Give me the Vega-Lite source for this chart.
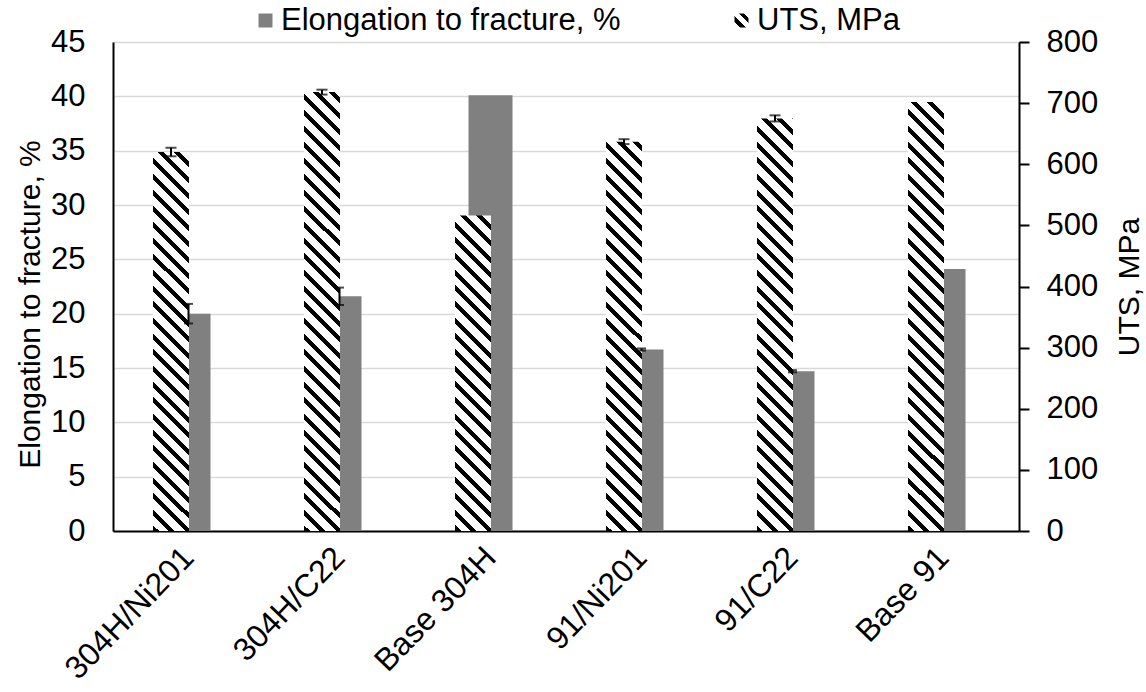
{
"$schema":"https://vega.github.io/schema/vega-lite/v6.json",
"width":906,"height":489,
"autosize":{"type":"none"},
"padding":{"left":113,"top":42,"right":127,"bottom":161},
"background":"white",
"config":{"font":"Liberation Sans","view":{"stroke":null},
"axis":{"labelFont":"Liberation Sans","titleFont":"Liberation Sans","labelFontSize":31,"titleFontSize":30,"titleFontWeight":"normal","labelColor":"#000","titleColor":"#000","domainColor":"#000","domainWidth":2,"labelFlush":false,"labelOverlap":false}},
"data":{"values":[
{"sample":"304H/Ni201","uts":620,"uts_lo":613,"uts_hi":627,"el":20.0,"el_lo":19.1,"el_hi":20.9},
{"sample":"304H/C22","uts":718,"uts_lo":714,"uts_hi":722,"el":21.6,"el_lo":20.8,"el_hi":22.4},
{"sample":"Base 304H","uts":516,"uts_lo":null,"uts_hi":null,"el":40.1,"el_lo":null,"el_hi":null},
{"sample":"91/Ni201","uts":637,"uts_lo":633,"uts_hi":641,"el":16.7,"el_lo":16.6,"el_hi":16.8},
{"sample":"91/C22","uts":675,"uts_lo":670,"uts_hi":680,"el":14.7,"el_lo":14.6,"el_hi":14.8},
{"sample":"Base 91","uts":702,"uts_lo":null,"uts_hi":null,"el":24.1,"el_lo":null,"el_hi":null}
]},
"encoding":{"x":{"field":"sample","type":"nominal","scale":{"domain":["304H/Ni201","304H/C22","Base 304H","91/Ni201","91/C22","Base 91"],"paddingInner":0,"paddingOuter":0},"axis":{"title":null,"labelAngle":-46,"labelBaseline":"middle","labelFontSize":32,"ticks":false,"labelPadding":21,"grid":false}}},
"layer":[
{"layer":[
{"mark":{"type":"bar","size":44,"color":"#808080"},
"encoding":{"y":{"field":"el","type":"quantitative","scale":{"domain":[0,45],"nice":false},"axis":{"orient":"left","values":[0,5,10,15,20,25,30,35,40,45],"title":"Elongation to fracture, %","titleY":262,"grid":true,"gridColor":"#d9d9d9","gridWidth":1.5,"ticks":false,"labelPadding":28,"titlePadding":5}},
"opacity":{"datum":"Elongation to fracture, %","type":"ordinal","scale":{"domain":["Elongation to fracture, %"],"range":[1]},
"legend":{"orient":"none","legendX":137,"legendY":-37,"title":null,"labelFont":"Liberation Sans","labelFontSize":31,"labelColor":"#000","labelLimit":800,"symbolType":"square","symbolSize":196,"labelOffset":0,"padding":0}}}}
]},
{"layer":[
{"transform":[{"filter":"datum.sample === '304H/Ni201'"}],"mark":{"type":"bar","size":36,"xOffset":-17.5,"fill":{"gradient":"linear","x1":0,"y1":1,"x2":0.11922,"y2":-0.25517,"stops":[{"offset":0,"color":"#000"},{"offset":0.0125,"color":"#000"},{"offset":0.0125,"color":"#fff"},{"offset":0.0333,"color":"#fff"},{"offset":0.0333,"color":"#000"},{"offset":0.0458,"color":"#000"},{"offset":0.0458,"color":"#fff"},{"offset":0.0667,"color":"#fff"},{"offset":0.0667,"color":"#000"},{"offset":0.0792,"color":"#000"},{"offset":0.0792,"color":"#fff"},{"offset":0.1,"color":"#fff"},{"offset":0.1,"color":"#000"},{"offset":0.1125,"color":"#000"},{"offset":0.1125,"color":"#fff"},{"offset":0.1333,"color":"#fff"},{"offset":0.1333,"color":"#000"},{"offset":0.1458,"color":"#000"},{"offset":0.1458,"color":"#fff"},{"offset":0.1667,"color":"#fff"},{"offset":0.1667,"color":"#000"},{"offset":0.1792,"color":"#000"},{"offset":0.1792,"color":"#fff"},{"offset":0.2,"color":"#fff"},{"offset":0.2,"color":"#000"},{"offset":0.2125,"color":"#000"},{"offset":0.2125,"color":"#fff"},{"offset":0.2333,"color":"#fff"},{"offset":0.2333,"color":"#000"},{"offset":0.2458,"color":"#000"},{"offset":0.2458,"color":"#fff"},{"offset":0.2667,"color":"#fff"},{"offset":0.2667,"color":"#000"},{"offset":0.2792,"color":"#000"},{"offset":0.2792,"color":"#fff"},{"offset":0.3,"color":"#fff"},{"offset":0.3,"color":"#000"},{"offset":0.3125,"color":"#000"},{"offset":0.3125,"color":"#fff"},{"offset":0.3333,"color":"#fff"},{"offset":0.3333,"color":"#000"},{"offset":0.3458,"color":"#000"},{"offset":0.3458,"color":"#fff"},{"offset":0.3667,"color":"#fff"},{"offset":0.3667,"color":"#000"},{"offset":0.3792,"color":"#000"},{"offset":0.3792,"color":"#fff"},{"offset":0.4,"color":"#fff"},{"offset":0.4,"color":"#000"},{"offset":0.4125,"color":"#000"},{"offset":0.4125,"color":"#fff"},{"offset":0.4333,"color":"#fff"},{"offset":0.4333,"color":"#000"},{"offset":0.4458,"color":"#000"},{"offset":0.4458,"color":"#fff"},{"offset":0.4667,"color":"#fff"},{"offset":0.4667,"color":"#000"},{"offset":0.4792,"color":"#000"},{"offset":0.4792,"color":"#fff"},{"offset":0.5,"color":"#fff"},{"offset":0.5,"color":"#000"},{"offset":0.5125,"color":"#000"},{"offset":0.5125,"color":"#fff"},{"offset":0.5333,"color":"#fff"},{"offset":0.5333,"color":"#000"},{"offset":0.5458,"color":"#000"},{"offset":0.5458,"color":"#fff"},{"offset":0.5667,"color":"#fff"},{"offset":0.5667,"color":"#000"},{"offset":0.5792,"color":"#000"},{"offset":0.5792,"color":"#fff"},{"offset":0.6,"color":"#fff"},{"offset":0.6,"color":"#000"},{"offset":0.6125,"color":"#000"},{"offset":0.6125,"color":"#fff"},{"offset":0.6333,"color":"#fff"},{"offset":0.6333,"color":"#000"},{"offset":0.6458,"color":"#000"},{"offset":0.6458,"color":"#fff"},{"offset":0.6667,"color":"#fff"},{"offset":0.6667,"color":"#000"},{"offset":0.6792,"color":"#000"},{"offset":0.6792,"color":"#fff"},{"offset":0.7,"color":"#fff"},{"offset":0.7,"color":"#000"},{"offset":0.7125,"color":"#000"},{"offset":0.7125,"color":"#fff"},{"offset":0.7333,"color":"#fff"},{"offset":0.7333,"color":"#000"},{"offset":0.7458,"color":"#000"},{"offset":0.7458,"color":"#fff"},{"offset":0.7667,"color":"#fff"},{"offset":0.7667,"color":"#000"},{"offset":0.7792,"color":"#000"},{"offset":0.7792,"color":"#fff"},{"offset":0.8,"color":"#fff"},{"offset":0.8,"color":"#000"},{"offset":0.8125,"color":"#000"},{"offset":0.8125,"color":"#fff"},{"offset":0.8333,"color":"#fff"},{"offset":0.8333,"color":"#000"},{"offset":0.8458,"color":"#000"},{"offset":0.8458,"color":"#fff"},{"offset":0.8667,"color":"#fff"},{"offset":0.8667,"color":"#000"},{"offset":0.8792,"color":"#000"},{"offset":0.8792,"color":"#fff"},{"offset":0.9,"color":"#fff"},{"offset":0.9,"color":"#000"},{"offset":0.9125,"color":"#000"},{"offset":0.9125,"color":"#fff"},{"offset":0.9333,"color":"#fff"},{"offset":0.9333,"color":"#000"},{"offset":0.9458,"color":"#000"},{"offset":0.9458,"color":"#fff"},{"offset":0.9667,"color":"#fff"},{"offset":0.9667,"color":"#000"},{"offset":0.9792,"color":"#000"},{"offset":0.9792,"color":"#fff"},{"offset":1,"color":"#fff"}]}},
"encoding":{"y":{"field":"uts","type":"quantitative","scale":{"domain":[0,800],"nice":false},"axis":{"orient":"right","values":[0,100,200,300,400,500,600,700,800],"title":"UTS, MPa","titleAngle":270,"titleBaseline":"top","titlePadding":17,"grid":false,"ticks":true,"tickSize":10,"tickWidth":2,"tickColor":"#000","labelPadding":17}}}},
{"transform":[{"filter":"datum.sample === '304H/C22'"}],"mark":{"type":"bar","size":36,"xOffset":-17.5,"fill":{"gradient":"linear","x1":0,"y1":1,"x2":0.0891,"y2":-0.08633,"stops":[{"offset":0,"color":"#000"},{"offset":0.0125,"color":"#000"},{"offset":0.0125,"color":"#fff"},{"offset":0.0333,"color":"#fff"},{"offset":0.0333,"color":"#000"},{"offset":0.0458,"color":"#000"},{"offset":0.0458,"color":"#fff"},{"offset":0.0667,"color":"#fff"},{"offset":0.0667,"color":"#000"},{"offset":0.0792,"color":"#000"},{"offset":0.0792,"color":"#fff"},{"offset":0.1,"color":"#fff"},{"offset":0.1,"color":"#000"},{"offset":0.1125,"color":"#000"},{"offset":0.1125,"color":"#fff"},{"offset":0.1333,"color":"#fff"},{"offset":0.1333,"color":"#000"},{"offset":0.1458,"color":"#000"},{"offset":0.1458,"color":"#fff"},{"offset":0.1667,"color":"#fff"},{"offset":0.1667,"color":"#000"},{"offset":0.1792,"color":"#000"},{"offset":0.1792,"color":"#fff"},{"offset":0.2,"color":"#fff"},{"offset":0.2,"color":"#000"},{"offset":0.2125,"color":"#000"},{"offset":0.2125,"color":"#fff"},{"offset":0.2333,"color":"#fff"},{"offset":0.2333,"color":"#000"},{"offset":0.2458,"color":"#000"},{"offset":0.2458,"color":"#fff"},{"offset":0.2667,"color":"#fff"},{"offset":0.2667,"color":"#000"},{"offset":0.2792,"color":"#000"},{"offset":0.2792,"color":"#fff"},{"offset":0.3,"color":"#fff"},{"offset":0.3,"color":"#000"},{"offset":0.3125,"color":"#000"},{"offset":0.3125,"color":"#fff"},{"offset":0.3333,"color":"#fff"},{"offset":0.3333,"color":"#000"},{"offset":0.3458,"color":"#000"},{"offset":0.3458,"color":"#fff"},{"offset":0.3667,"color":"#fff"},{"offset":0.3667,"color":"#000"},{"offset":0.3792,"color":"#000"},{"offset":0.3792,"color":"#fff"},{"offset":0.4,"color":"#fff"},{"offset":0.4,"color":"#000"},{"offset":0.4125,"color":"#000"},{"offset":0.4125,"color":"#fff"},{"offset":0.4333,"color":"#fff"},{"offset":0.4333,"color":"#000"},{"offset":0.4458,"color":"#000"},{"offset":0.4458,"color":"#fff"},{"offset":0.4667,"color":"#fff"},{"offset":0.4667,"color":"#000"},{"offset":0.4792,"color":"#000"},{"offset":0.4792,"color":"#fff"},{"offset":0.5,"color":"#fff"},{"offset":0.5,"color":"#000"},{"offset":0.5125,"color":"#000"},{"offset":0.5125,"color":"#fff"},{"offset":0.5333,"color":"#fff"},{"offset":0.5333,"color":"#000"},{"offset":0.5458,"color":"#000"},{"offset":0.5458,"color":"#fff"},{"offset":0.5667,"color":"#fff"},{"offset":0.5667,"color":"#000"},{"offset":0.5792,"color":"#000"},{"offset":0.5792,"color":"#fff"},{"offset":0.6,"color":"#fff"},{"offset":0.6,"color":"#000"},{"offset":0.6125,"color":"#000"},{"offset":0.6125,"color":"#fff"},{"offset":0.6333,"color":"#fff"},{"offset":0.6333,"color":"#000"},{"offset":0.6458,"color":"#000"},{"offset":0.6458,"color":"#fff"},{"offset":0.6667,"color":"#fff"},{"offset":0.6667,"color":"#000"},{"offset":0.6792,"color":"#000"},{"offset":0.6792,"color":"#fff"},{"offset":0.7,"color":"#fff"},{"offset":0.7,"color":"#000"},{"offset":0.7125,"color":"#000"},{"offset":0.7125,"color":"#fff"},{"offset":0.7333,"color":"#fff"},{"offset":0.7333,"color":"#000"},{"offset":0.7458,"color":"#000"},{"offset":0.7458,"color":"#fff"},{"offset":0.7667,"color":"#fff"},{"offset":0.7667,"color":"#000"},{"offset":0.7792,"color":"#000"},{"offset":0.7792,"color":"#fff"},{"offset":0.8,"color":"#fff"},{"offset":0.8,"color":"#000"},{"offset":0.8125,"color":"#000"},{"offset":0.8125,"color":"#fff"},{"offset":0.8333,"color":"#fff"},{"offset":0.8333,"color":"#000"},{"offset":0.8458,"color":"#000"},{"offset":0.8458,"color":"#fff"},{"offset":0.8667,"color":"#fff"},{"offset":0.8667,"color":"#000"},{"offset":0.8792,"color":"#000"},{"offset":0.8792,"color":"#fff"},{"offset":0.9,"color":"#fff"},{"offset":0.9,"color":"#000"},{"offset":0.9125,"color":"#000"},{"offset":0.9125,"color":"#fff"},{"offset":0.9333,"color":"#fff"},{"offset":0.9333,"color":"#000"},{"offset":0.9458,"color":"#000"},{"offset":0.9458,"color":"#fff"},{"offset":0.9667,"color":"#fff"},{"offset":0.9667,"color":"#000"},{"offset":0.9792,"color":"#000"},{"offset":0.9792,"color":"#fff"},{"offset":1,"color":"#fff"}]}},
"encoding":{"y":{"field":"uts","type":"quantitative"}}},
{"transform":[{"filter":"datum.sample === 'Base 304H'"}],"mark":{"type":"bar","size":36,"xOffset":-17.5,"fill":{"gradient":"linear","x1":0,"y1":1,"x2":0.17147,"y2":-0.5023,"stops":[{"offset":0,"color":"#000"},{"offset":0.0125,"color":"#000"},{"offset":0.0125,"color":"#fff"},{"offset":0.0333,"color":"#fff"},{"offset":0.0333,"color":"#000"},{"offset":0.0458,"color":"#000"},{"offset":0.0458,"color":"#fff"},{"offset":0.0667,"color":"#fff"},{"offset":0.0667,"color":"#000"},{"offset":0.0792,"color":"#000"},{"offset":0.0792,"color":"#fff"},{"offset":0.1,"color":"#fff"},{"offset":0.1,"color":"#000"},{"offset":0.1125,"color":"#000"},{"offset":0.1125,"color":"#fff"},{"offset":0.1333,"color":"#fff"},{"offset":0.1333,"color":"#000"},{"offset":0.1458,"color":"#000"},{"offset":0.1458,"color":"#fff"},{"offset":0.1667,"color":"#fff"},{"offset":0.1667,"color":"#000"},{"offset":0.1792,"color":"#000"},{"offset":0.1792,"color":"#fff"},{"offset":0.2,"color":"#fff"},{"offset":0.2,"color":"#000"},{"offset":0.2125,"color":"#000"},{"offset":0.2125,"color":"#fff"},{"offset":0.2333,"color":"#fff"},{"offset":0.2333,"color":"#000"},{"offset":0.2458,"color":"#000"},{"offset":0.2458,"color":"#fff"},{"offset":0.2667,"color":"#fff"},{"offset":0.2667,"color":"#000"},{"offset":0.2792,"color":"#000"},{"offset":0.2792,"color":"#fff"},{"offset":0.3,"color":"#fff"},{"offset":0.3,"color":"#000"},{"offset":0.3125,"color":"#000"},{"offset":0.3125,"color":"#fff"},{"offset":0.3333,"color":"#fff"},{"offset":0.3333,"color":"#000"},{"offset":0.3458,"color":"#000"},{"offset":0.3458,"color":"#fff"},{"offset":0.3667,"color":"#fff"},{"offset":0.3667,"color":"#000"},{"offset":0.3792,"color":"#000"},{"offset":0.3792,"color":"#fff"},{"offset":0.4,"color":"#fff"},{"offset":0.4,"color":"#000"},{"offset":0.4125,"color":"#000"},{"offset":0.4125,"color":"#fff"},{"offset":0.4333,"color":"#fff"},{"offset":0.4333,"color":"#000"},{"offset":0.4458,"color":"#000"},{"offset":0.4458,"color":"#fff"},{"offset":0.4667,"color":"#fff"},{"offset":0.4667,"color":"#000"},{"offset":0.4792,"color":"#000"},{"offset":0.4792,"color":"#fff"},{"offset":0.5,"color":"#fff"},{"offset":0.5,"color":"#000"},{"offset":0.5125,"color":"#000"},{"offset":0.5125,"color":"#fff"},{"offset":0.5333,"color":"#fff"},{"offset":0.5333,"color":"#000"},{"offset":0.5458,"color":"#000"},{"offset":0.5458,"color":"#fff"},{"offset":0.5667,"color":"#fff"},{"offset":0.5667,"color":"#000"},{"offset":0.5792,"color":"#000"},{"offset":0.5792,"color":"#fff"},{"offset":0.6,"color":"#fff"},{"offset":0.6,"color":"#000"},{"offset":0.6125,"color":"#000"},{"offset":0.6125,"color":"#fff"},{"offset":0.6333,"color":"#fff"},{"offset":0.6333,"color":"#000"},{"offset":0.6458,"color":"#000"},{"offset":0.6458,"color":"#fff"},{"offset":0.6667,"color":"#fff"},{"offset":0.6667,"color":"#000"},{"offset":0.6792,"color":"#000"},{"offset":0.6792,"color":"#fff"},{"offset":0.7,"color":"#fff"},{"offset":0.7,"color":"#000"},{"offset":0.7125,"color":"#000"},{"offset":0.7125,"color":"#fff"},{"offset":0.7333,"color":"#fff"},{"offset":0.7333,"color":"#000"},{"offset":0.7458,"color":"#000"},{"offset":0.7458,"color":"#fff"},{"offset":0.7667,"color":"#fff"},{"offset":0.7667,"color":"#000"},{"offset":0.7792,"color":"#000"},{"offset":0.7792,"color":"#fff"},{"offset":0.8,"color":"#fff"},{"offset":0.8,"color":"#000"},{"offset":0.8125,"color":"#000"},{"offset":0.8125,"color":"#fff"},{"offset":0.8333,"color":"#fff"},{"offset":0.8333,"color":"#000"},{"offset":0.8458,"color":"#000"},{"offset":0.8458,"color":"#fff"},{"offset":0.8667,"color":"#fff"},{"offset":0.8667,"color":"#000"},{"offset":0.8792,"color":"#000"},{"offset":0.8792,"color":"#fff"},{"offset":0.9,"color":"#fff"},{"offset":0.9,"color":"#000"},{"offset":0.9125,"color":"#000"},{"offset":0.9125,"color":"#fff"},{"offset":0.9333,"color":"#fff"},{"offset":0.9333,"color":"#000"},{"offset":0.9458,"color":"#000"},{"offset":0.9458,"color":"#fff"},{"offset":0.9667,"color":"#fff"},{"offset":0.9667,"color":"#000"},{"offset":0.9792,"color":"#000"},{"offset":0.9792,"color":"#fff"},{"offset":1,"color":"#fff"}]}},
"encoding":{"y":{"field":"uts","type":"quantitative"}}},
{"transform":[{"filter":"datum.sample === '91/Ni201'"}],"mark":{"type":"bar","size":36,"xOffset":-17.5,"fill":{"gradient":"linear","x1":0,"y1":1,"x2":0.11299,"y2":-0.22222,"stops":[{"offset":0,"color":"#000"},{"offset":0.0125,"color":"#000"},{"offset":0.0125,"color":"#fff"},{"offset":0.0333,"color":"#fff"},{"offset":0.0333,"color":"#000"},{"offset":0.0458,"color":"#000"},{"offset":0.0458,"color":"#fff"},{"offset":0.0667,"color":"#fff"},{"offset":0.0667,"color":"#000"},{"offset":0.0792,"color":"#000"},{"offset":0.0792,"color":"#fff"},{"offset":0.1,"color":"#fff"},{"offset":0.1,"color":"#000"},{"offset":0.1125,"color":"#000"},{"offset":0.1125,"color":"#fff"},{"offset":0.1333,"color":"#fff"},{"offset":0.1333,"color":"#000"},{"offset":0.1458,"color":"#000"},{"offset":0.1458,"color":"#fff"},{"offset":0.1667,"color":"#fff"},{"offset":0.1667,"color":"#000"},{"offset":0.1792,"color":"#000"},{"offset":0.1792,"color":"#fff"},{"offset":0.2,"color":"#fff"},{"offset":0.2,"color":"#000"},{"offset":0.2125,"color":"#000"},{"offset":0.2125,"color":"#fff"},{"offset":0.2333,"color":"#fff"},{"offset":0.2333,"color":"#000"},{"offset":0.2458,"color":"#000"},{"offset":0.2458,"color":"#fff"},{"offset":0.2667,"color":"#fff"},{"offset":0.2667,"color":"#000"},{"offset":0.2792,"color":"#000"},{"offset":0.2792,"color":"#fff"},{"offset":0.3,"color":"#fff"},{"offset":0.3,"color":"#000"},{"offset":0.3125,"color":"#000"},{"offset":0.3125,"color":"#fff"},{"offset":0.3333,"color":"#fff"},{"offset":0.3333,"color":"#000"},{"offset":0.3458,"color":"#000"},{"offset":0.3458,"color":"#fff"},{"offset":0.3667,"color":"#fff"},{"offset":0.3667,"color":"#000"},{"offset":0.3792,"color":"#000"},{"offset":0.3792,"color":"#fff"},{"offset":0.4,"color":"#fff"},{"offset":0.4,"color":"#000"},{"offset":0.4125,"color":"#000"},{"offset":0.4125,"color":"#fff"},{"offset":0.4333,"color":"#fff"},{"offset":0.4333,"color":"#000"},{"offset":0.4458,"color":"#000"},{"offset":0.4458,"color":"#fff"},{"offset":0.4667,"color":"#fff"},{"offset":0.4667,"color":"#000"},{"offset":0.4792,"color":"#000"},{"offset":0.4792,"color":"#fff"},{"offset":0.5,"color":"#fff"},{"offset":0.5,"color":"#000"},{"offset":0.5125,"color":"#000"},{"offset":0.5125,"color":"#fff"},{"offset":0.5333,"color":"#fff"},{"offset":0.5333,"color":"#000"},{"offset":0.5458,"color":"#000"},{"offset":0.5458,"color":"#fff"},{"offset":0.5667,"color":"#fff"},{"offset":0.5667,"color":"#000"},{"offset":0.5792,"color":"#000"},{"offset":0.5792,"color":"#fff"},{"offset":0.6,"color":"#fff"},{"offset":0.6,"color":"#000"},{"offset":0.6125,"color":"#000"},{"offset":0.6125,"color":"#fff"},{"offset":0.6333,"color":"#fff"},{"offset":0.6333,"color":"#000"},{"offset":0.6458,"color":"#000"},{"offset":0.6458,"color":"#fff"},{"offset":0.6667,"color":"#fff"},{"offset":0.6667,"color":"#000"},{"offset":0.6792,"color":"#000"},{"offset":0.6792,"color":"#fff"},{"offset":0.7,"color":"#fff"},{"offset":0.7,"color":"#000"},{"offset":0.7125,"color":"#000"},{"offset":0.7125,"color":"#fff"},{"offset":0.7333,"color":"#fff"},{"offset":0.7333,"color":"#000"},{"offset":0.7458,"color":"#000"},{"offset":0.7458,"color":"#fff"},{"offset":0.7667,"color":"#fff"},{"offset":0.7667,"color":"#000"},{"offset":0.7792,"color":"#000"},{"offset":0.7792,"color":"#fff"},{"offset":0.8,"color":"#fff"},{"offset":0.8,"color":"#000"},{"offset":0.8125,"color":"#000"},{"offset":0.8125,"color":"#fff"},{"offset":0.8333,"color":"#fff"},{"offset":0.8333,"color":"#000"},{"offset":0.8458,"color":"#000"},{"offset":0.8458,"color":"#fff"},{"offset":0.8667,"color":"#fff"},{"offset":0.8667,"color":"#000"},{"offset":0.8792,"color":"#000"},{"offset":0.8792,"color":"#fff"},{"offset":0.9,"color":"#fff"},{"offset":0.9,"color":"#000"},{"offset":0.9125,"color":"#000"},{"offset":0.9125,"color":"#fff"},{"offset":0.9333,"color":"#fff"},{"offset":0.9333,"color":"#000"},{"offset":0.9458,"color":"#000"},{"offset":0.9458,"color":"#fff"},{"offset":0.9667,"color":"#fff"},{"offset":0.9667,"color":"#000"},{"offset":0.9792,"color":"#000"},{"offset":0.9792,"color":"#fff"},{"offset":1,"color":"#fff"}]}},
"encoding":{"y":{"field":"uts","type":"quantitative"}}},
{"transform":[{"filter":"datum.sample === '91/C22'"}],"mark":{"type":"bar","size":36,"xOffset":-17.5,"fill":{"gradient":"linear","x1":0,"y1":1,"x2":0.10074,"y2":-0.15456,"stops":[{"offset":0,"color":"#000"},{"offset":0.0125,"color":"#000"},{"offset":0.0125,"color":"#fff"},{"offset":0.0333,"color":"#fff"},{"offset":0.0333,"color":"#000"},{"offset":0.0458,"color":"#000"},{"offset":0.0458,"color":"#fff"},{"offset":0.0667,"color":"#fff"},{"offset":0.0667,"color":"#000"},{"offset":0.0792,"color":"#000"},{"offset":0.0792,"color":"#fff"},{"offset":0.1,"color":"#fff"},{"offset":0.1,"color":"#000"},{"offset":0.1125,"color":"#000"},{"offset":0.1125,"color":"#fff"},{"offset":0.1333,"color":"#fff"},{"offset":0.1333,"color":"#000"},{"offset":0.1458,"color":"#000"},{"offset":0.1458,"color":"#fff"},{"offset":0.1667,"color":"#fff"},{"offset":0.1667,"color":"#000"},{"offset":0.1792,"color":"#000"},{"offset":0.1792,"color":"#fff"},{"offset":0.2,"color":"#fff"},{"offset":0.2,"color":"#000"},{"offset":0.2125,"color":"#000"},{"offset":0.2125,"color":"#fff"},{"offset":0.2333,"color":"#fff"},{"offset":0.2333,"color":"#000"},{"offset":0.2458,"color":"#000"},{"offset":0.2458,"color":"#fff"},{"offset":0.2667,"color":"#fff"},{"offset":0.2667,"color":"#000"},{"offset":0.2792,"color":"#000"},{"offset":0.2792,"color":"#fff"},{"offset":0.3,"color":"#fff"},{"offset":0.3,"color":"#000"},{"offset":0.3125,"color":"#000"},{"offset":0.3125,"color":"#fff"},{"offset":0.3333,"color":"#fff"},{"offset":0.3333,"color":"#000"},{"offset":0.3458,"color":"#000"},{"offset":0.3458,"color":"#fff"},{"offset":0.3667,"color":"#fff"},{"offset":0.3667,"color":"#000"},{"offset":0.3792,"color":"#000"},{"offset":0.3792,"color":"#fff"},{"offset":0.4,"color":"#fff"},{"offset":0.4,"color":"#000"},{"offset":0.4125,"color":"#000"},{"offset":0.4125,"color":"#fff"},{"offset":0.4333,"color":"#fff"},{"offset":0.4333,"color":"#000"},{"offset":0.4458,"color":"#000"},{"offset":0.4458,"color":"#fff"},{"offset":0.4667,"color":"#fff"},{"offset":0.4667,"color":"#000"},{"offset":0.4792,"color":"#000"},{"offset":0.4792,"color":"#fff"},{"offset":0.5,"color":"#fff"},{"offset":0.5,"color":"#000"},{"offset":0.5125,"color":"#000"},{"offset":0.5125,"color":"#fff"},{"offset":0.5333,"color":"#fff"},{"offset":0.5333,"color":"#000"},{"offset":0.5458,"color":"#000"},{"offset":0.5458,"color":"#fff"},{"offset":0.5667,"color":"#fff"},{"offset":0.5667,"color":"#000"},{"offset":0.5792,"color":"#000"},{"offset":0.5792,"color":"#fff"},{"offset":0.6,"color":"#fff"},{"offset":0.6,"color":"#000"},{"offset":0.6125,"color":"#000"},{"offset":0.6125,"color":"#fff"},{"offset":0.6333,"color":"#fff"},{"offset":0.6333,"color":"#000"},{"offset":0.6458,"color":"#000"},{"offset":0.6458,"color":"#fff"},{"offset":0.6667,"color":"#fff"},{"offset":0.6667,"color":"#000"},{"offset":0.6792,"color":"#000"},{"offset":0.6792,"color":"#fff"},{"offset":0.7,"color":"#fff"},{"offset":0.7,"color":"#000"},{"offset":0.7125,"color":"#000"},{"offset":0.7125,"color":"#fff"},{"offset":0.7333,"color":"#fff"},{"offset":0.7333,"color":"#000"},{"offset":0.7458,"color":"#000"},{"offset":0.7458,"color":"#fff"},{"offset":0.7667,"color":"#fff"},{"offset":0.7667,"color":"#000"},{"offset":0.7792,"color":"#000"},{"offset":0.7792,"color":"#fff"},{"offset":0.8,"color":"#fff"},{"offset":0.8,"color":"#000"},{"offset":0.8125,"color":"#000"},{"offset":0.8125,"color":"#fff"},{"offset":0.8333,"color":"#fff"},{"offset":0.8333,"color":"#000"},{"offset":0.8458,"color":"#000"},{"offset":0.8458,"color":"#fff"},{"offset":0.8667,"color":"#fff"},{"offset":0.8667,"color":"#000"},{"offset":0.8792,"color":"#000"},{"offset":0.8792,"color":"#fff"},{"offset":0.9,"color":"#fff"},{"offset":0.9,"color":"#000"},{"offset":0.9125,"color":"#000"},{"offset":0.9125,"color":"#fff"},{"offset":0.9333,"color":"#fff"},{"offset":0.9333,"color":"#000"},{"offset":0.9458,"color":"#000"},{"offset":0.9458,"color":"#fff"},{"offset":0.9667,"color":"#fff"},{"offset":0.9667,"color":"#000"},{"offset":0.9792,"color":"#000"},{"offset":0.9792,"color":"#fff"},{"offset":1,"color":"#fff"}]}},
"encoding":{"y":{"field":"uts","type":"quantitative"}}},
{"transform":[{"filter":"datum.sample === 'Base 91'"}],"mark":{"type":"bar","size":36,"xOffset":-17.5,"fill":{"gradient":"linear","x1":0,"y1":1,"x2":0.09319,"y2":-0.1108,"stops":[{"offset":0,"color":"#000"},{"offset":0.0125,"color":"#000"},{"offset":0.0125,"color":"#fff"},{"offset":0.0333,"color":"#fff"},{"offset":0.0333,"color":"#000"},{"offset":0.0458,"color":"#000"},{"offset":0.0458,"color":"#fff"},{"offset":0.0667,"color":"#fff"},{"offset":0.0667,"color":"#000"},{"offset":0.0792,"color":"#000"},{"offset":0.0792,"color":"#fff"},{"offset":0.1,"color":"#fff"},{"offset":0.1,"color":"#000"},{"offset":0.1125,"color":"#000"},{"offset":0.1125,"color":"#fff"},{"offset":0.1333,"color":"#fff"},{"offset":0.1333,"color":"#000"},{"offset":0.1458,"color":"#000"},{"offset":0.1458,"color":"#fff"},{"offset":0.1667,"color":"#fff"},{"offset":0.1667,"color":"#000"},{"offset":0.1792,"color":"#000"},{"offset":0.1792,"color":"#fff"},{"offset":0.2,"color":"#fff"},{"offset":0.2,"color":"#000"},{"offset":0.2125,"color":"#000"},{"offset":0.2125,"color":"#fff"},{"offset":0.2333,"color":"#fff"},{"offset":0.2333,"color":"#000"},{"offset":0.2458,"color":"#000"},{"offset":0.2458,"color":"#fff"},{"offset":0.2667,"color":"#fff"},{"offset":0.2667,"color":"#000"},{"offset":0.2792,"color":"#000"},{"offset":0.2792,"color":"#fff"},{"offset":0.3,"color":"#fff"},{"offset":0.3,"color":"#000"},{"offset":0.3125,"color":"#000"},{"offset":0.3125,"color":"#fff"},{"offset":0.3333,"color":"#fff"},{"offset":0.3333,"color":"#000"},{"offset":0.3458,"color":"#000"},{"offset":0.3458,"color":"#fff"},{"offset":0.3667,"color":"#fff"},{"offset":0.3667,"color":"#000"},{"offset":0.3792,"color":"#000"},{"offset":0.3792,"color":"#fff"},{"offset":0.4,"color":"#fff"},{"offset":0.4,"color":"#000"},{"offset":0.4125,"color":"#000"},{"offset":0.4125,"color":"#fff"},{"offset":0.4333,"color":"#fff"},{"offset":0.4333,"color":"#000"},{"offset":0.4458,"color":"#000"},{"offset":0.4458,"color":"#fff"},{"offset":0.4667,"color":"#fff"},{"offset":0.4667,"color":"#000"},{"offset":0.4792,"color":"#000"},{"offset":0.4792,"color":"#fff"},{"offset":0.5,"color":"#fff"},{"offset":0.5,"color":"#000"},{"offset":0.5125,"color":"#000"},{"offset":0.5125,"color":"#fff"},{"offset":0.5333,"color":"#fff"},{"offset":0.5333,"color":"#000"},{"offset":0.5458,"color":"#000"},{"offset":0.5458,"color":"#fff"},{"offset":0.5667,"color":"#fff"},{"offset":0.5667,"color":"#000"},{"offset":0.5792,"color":"#000"},{"offset":0.5792,"color":"#fff"},{"offset":0.6,"color":"#fff"},{"offset":0.6,"color":"#000"},{"offset":0.6125,"color":"#000"},{"offset":0.6125,"color":"#fff"},{"offset":0.6333,"color":"#fff"},{"offset":0.6333,"color":"#000"},{"offset":0.6458,"color":"#000"},{"offset":0.6458,"color":"#fff"},{"offset":0.6667,"color":"#fff"},{"offset":0.6667,"color":"#000"},{"offset":0.6792,"color":"#000"},{"offset":0.6792,"color":"#fff"},{"offset":0.7,"color":"#fff"},{"offset":0.7,"color":"#000"},{"offset":0.7125,"color":"#000"},{"offset":0.7125,"color":"#fff"},{"offset":0.7333,"color":"#fff"},{"offset":0.7333,"color":"#000"},{"offset":0.7458,"color":"#000"},{"offset":0.7458,"color":"#fff"},{"offset":0.7667,"color":"#fff"},{"offset":0.7667,"color":"#000"},{"offset":0.7792,"color":"#000"},{"offset":0.7792,"color":"#fff"},{"offset":0.8,"color":"#fff"},{"offset":0.8,"color":"#000"},{"offset":0.8125,"color":"#000"},{"offset":0.8125,"color":"#fff"},{"offset":0.8333,"color":"#fff"},{"offset":0.8333,"color":"#000"},{"offset":0.8458,"color":"#000"},{"offset":0.8458,"color":"#fff"},{"offset":0.8667,"color":"#fff"},{"offset":0.8667,"color":"#000"},{"offset":0.8792,"color":"#000"},{"offset":0.8792,"color":"#fff"},{"offset":0.9,"color":"#fff"},{"offset":0.9,"color":"#000"},{"offset":0.9125,"color":"#000"},{"offset":0.9125,"color":"#fff"},{"offset":0.9333,"color":"#fff"},{"offset":0.9333,"color":"#000"},{"offset":0.9458,"color":"#000"},{"offset":0.9458,"color":"#fff"},{"offset":0.9667,"color":"#fff"},{"offset":0.9667,"color":"#000"},{"offset":0.9792,"color":"#000"},{"offset":0.9792,"color":"#fff"},{"offset":1,"color":"#fff"}]}},
"encoding":{"y":{"field":"uts","type":"quantitative"}}},
{"transform":[{"filter":"false"}],"mark":{"type":"bar","size":36,"fill":{"gradient":"linear","x1":0,"y1":1,"x2":1,"y2":0,"stops":[{"offset":0,"color":"#fff"},{"offset":0.2,"color":"#fff"},{"offset":0.2,"color":"#000"},{"offset":0.4,"color":"#000"},{"offset":0.4,"color":"#fff"},{"offset":0.65,"color":"#fff"},{"offset":0.65,"color":"#000"},{"offset":0.85,"color":"#000"},{"offset":0.85,"color":"#fff"},{"offset":1,"color":"#fff"}]}},
"encoding":{"y":{"field":"uts","type":"quantitative"},
"strokeDash":{"datum":"UTS, MPa","type":"nominal","scale":{"domain":["UTS, MPa"],"range":[[1,0]]},
"legend":{"orient":"none","legendX":613,"legendY":-37,"title":null,"labelFont":"Liberation Sans","labelFontSize":31,"labelColor":"#000","labelLimit":800,"symbolType":"square","symbolSize":196,"labelOffset":0,"padding":0}}}},
{"mark":{"type":"rule","strokeWidth":2,"color":"#000","xOffset":-17.5},"encoding":{"y":{"field":"uts_lo","type":"quantitative"},"y2":{"field":"uts_hi"}}},
{"mark":{"type":"tick","size":11,"thickness":2,"color":"#000","xOffset":-17.5},"encoding":{"y":{"field":"uts_lo","type":"quantitative"}}},
{"mark":{"type":"tick","size":11,"thickness":2,"color":"#000","xOffset":-17.5},"encoding":{"y":{"field":"uts_hi","type":"quantitative"}}}
]},
{"layer":[
{"mark":{"type":"rule","strokeWidth":2,"color":"#000"},"encoding":{"y":{"field":"el_lo","type":"quantitative","scale":{"domain":[0,45],"nice":false},"axis":null},"y2":{"field":"el_hi"}}},
{"mark":{"type":"tick","size":9,"thickness":2,"color":"#000"},"encoding":{"y":{"field":"el_lo","type":"quantitative"}}},
{"mark":{"type":"tick","size":9,"thickness":2,"color":"#000"},"encoding":{"y":{"field":"el_hi","type":"quantitative"}}}
]}
],
"resolve":{"scale":{"y":"independent"}}
}
